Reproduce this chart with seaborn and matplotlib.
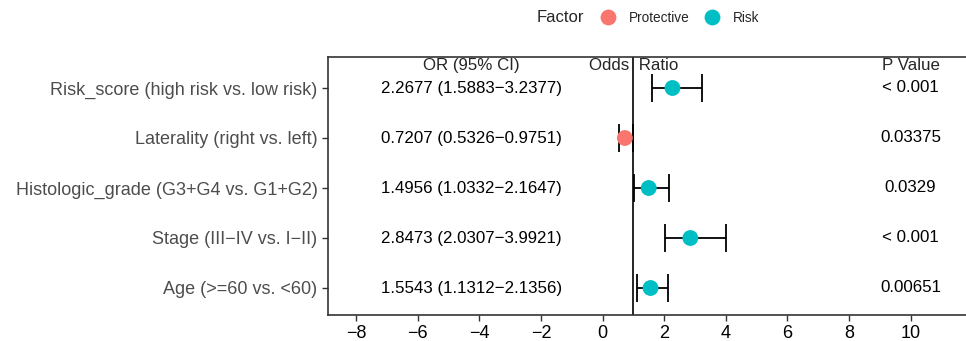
import matplotlib
matplotlib.use("Agg")
import matplotlib.pyplot as plt
import seaborn as sns
import pandas as pd

variables = ["Risk_score (high risk vs. low risk)",
             "Laterality (right vs. left)",
             "Histologic_grade (G3+G4 vs. G1+G2)",
             "Stage (III\u2212IV vs. I\u2212II)",
             "Age (>=60 vs. <60)"]
odds = [2.2677, 0.7207, 1.4956, 2.8473, 1.5543]
lower = [1.5883, 0.5326, 1.0332, 2.0307, 1.1312]
upper = [3.2377, 0.9751, 2.1647, 3.9921, 2.1356]
pvals = ["< 0.001", "0.03375", "0.0329", "< 0.001", "0.00651"]
factor = ["Risk", "Protective", "Risk", "Risk", "Risk"]
x_ticks = [-8, -6, -4, -2, 0, 2, 4, 6, 8, 10]

sns.set_theme(style="white")
plt.rcParams["font.family"] = ["Liberation Sans", "DejaVu Sans"]

df = pd.DataFrame({"var": variables, "OR": odds, "lo": lower, "hi": upper,
                   "p": pvals, "Factor": factor})
df["y"] = list(range(len(df), 0, -1))

fig = plt.figure(figsize=(9.66, 3.41), dpi=100)
ax = fig.add_axes([328 / 966, 1 - 315 / 341, 1 - 328 / 966, (315 - 57) / 341])

ax.axvline(1, color="black", lw=1.2, zorder=1)
ax.errorbar(df["OR"], df["y"], xerr=[df["OR"] - df["lo"], df["hi"] - df["OR"]],
            fmt="none", ecolor="black", elinewidth=1.3, capsize=10, capthick=1.3, zorder=2)
palette = {"Protective": "#F8766D", "Risk": "#00BFC4"}
sns.scatterplot(data=df, x="OR", y="y", hue="Factor", hue_order=["Protective", "Risk"],
                palette=palette, s=130, edgecolor="none", ax=ax, zorder=3, legend=True)

txt_size = 12.2
x_or, x_p = -4.25, 10.0
for _, r in df.iterrows():
    ax.text(x_or, r["y"], f"{r['OR']:.4f} ({r['lo']:.4f}\u2212{r['hi']:.4f})",
            ha="center", va="center", fontsize=txt_size, color="black")
    ax.text(x_p, r["y"], r["p"], ha="center", va="center", fontsize=txt_size, color="black")

hy = 5.45
ax.text(x_or, hy, "OR (95% CI)", ha="center", va="center", fontsize=txt_size)
ax.text(1, hy, "Odds  Ratio", ha="center", va="center", fontsize=txt_size)
ax.text(x_p, hy, "P Value", ha="center", va="center", fontsize=txt_size)

ax.set_xlim(-8.92, 11.8)
ax.set_ylim(0.46, 5.62)
ax.set_xticks(x_ticks)
ax.set_xticklabels([str(t).replace("-", "\u2212") for t in x_ticks])
ax.set_yticks(df["y"])
ax.set_yticklabels(df["var"])
ax.tick_params(axis="y", colors="#333333", labelsize=13, length=4, width=1,
               left=True, labelcolor="#4D4D4D")
ax.tick_params(axis="x", colors="#333333", labelsize=13, length=4, width=1,
               bottom=True, labelcolor="black")
ax.set_xlabel("")
ax.set_ylabel("")
for s in ["left", "top", "bottom"]:
    ax.spines[s].set_color("#333333")
    ax.spines[s].set_linewidth(1.2)
ax.spines["right"].set_visible(False)

handles, labels = ax.get_legend_handles_labels()
ax.get_legend().remove()
fig.text(560 / 966, 1 - 18 / 341, "Factor", ha="center", va="center", fontsize=12)
fig.legend(handles, labels, ncol=2, loc="center left",
           bbox_to_anchor=(589 / 966, 1 - 18 / 341), frameon=False, fontsize=9.8,
           markerscale=1.0, handletextpad=0.5, columnspacing=0.7, borderaxespad=0)

fig.savefig("out.png", dpi=100)
